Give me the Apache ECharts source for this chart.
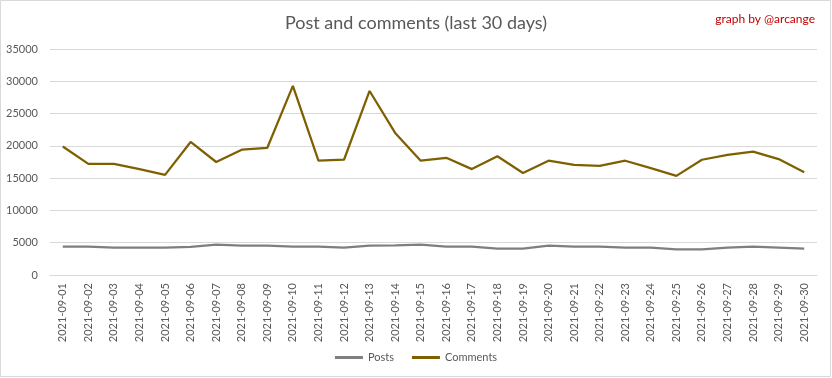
<!DOCTYPE html>
<html>
<head>
<meta charset="utf-8">
<script src="https://cdn.jsdelivr.net/npm/echarts@6/dist/echarts.min.js"></script>
<style>
  html, body { margin: 0; padding: 0; background: #fff; }
  #chart { width: 832px; height: 378px; }
</style>
</head>
<body>
<div id="chart"></div>
<script>
var days = [];
for (var d = 1; d <= 30; d++) {
  days.push('2021-09-' + (d < 10 ? '0' + d : d));
}
var posts = [4400, 4400, 4250, 4250, 4250, 4350, 4700, 4550, 4550, 4400,
             4400, 4250, 4550, 4600, 4700, 4400, 4400, 4100, 4100, 4550,
             4400, 4400, 4250, 4250, 3950, 3950, 4250, 4400, 4250, 4100];
var comments = [19900, 17200, 17200, 16400, 15500, 20600, 17500, 19400, 19700, 29300,
                17700, 17850, 28500, 22000, 17700, 18150, 16400, 18400, 15800, 17700,
                17050, 16900, 17700, 16550, 15350, 17850, 18600, 19100, 17950, 15900];

var chart = echarts.init(document.getElementById('chart'));
var font = 'Lato, "Open Sans", sans-serif';
chart.setOption({
  animation: false,
  textStyle: { fontFamily: font },
  graphic: [{
    type: 'rect',
    shape: { x: 0.5, y: 0.5, width: 830, height: 376 },
    style: { fill: 'none', stroke: '#d9d9d9', lineWidth: 1 },
    silent: true
  }],
  title: [{
    text: 'Post and comments (last 30 days)',
    left: 'center',
    top: 9,
    textStyle: { color: '#595959', fontSize: 18, fontWeight: 'normal', fontFamily: font }
  }, {
    text: 'graph by @arcange',
    right: 12,
    top: 8,
    textStyle: { color: '#c00000', fontSize: 12, fontWeight: 'normal', fontFamily: font }
  }],
  legend: {
    bottom: 10,
    left: 'center',
    itemWidth: 28,
    itemHeight: 3,
    itemGap: 18,
    icon: 'rect',
    textStyle: { color: '#595959', fontSize: 11 },
    data: ['Posts', 'Comments']
  },
  grid: { left: 50, right: 15, top: 49, bottom: 103, containLabel: false },
  xAxis: {
    type: 'category',
    data: days,
    boundaryGap: true,
    axisLine: { lineStyle: { color: '#d9d9d9' } },
    axisTick: { show: false },
    axisLabel: { rotate: 90, color: '#595959', fontSize: 11, margin: 8, interval: 0 }
  },
  yAxis: {
    type: 'value',
    min: 0,
    max: 35000,
    interval: 5000,
    axisLine: { show: false },
    axisTick: { show: false },
    splitLine: { lineStyle: { color: '#d9d9d9' } },
    axisLabel: { color: '#595959', fontSize: 11, margin: 12, formatter: function (v) { return String(v); } }
  },
  series: [{
    name: 'Posts',
    type: 'line',
    data: posts,
    symbol: 'none',
    lineStyle: { color: '#7f7f7f', width: 2.25 },
    itemStyle: { color: '#7f7f7f' }
  }, {
    name: 'Comments',
    type: 'line',
    data: comments,
    symbol: 'none',
    lineStyle: { color: '#7f6000', width: 2.25 },
    itemStyle: { color: '#7f6000' }
  }]
});
</script>
</body>
</html>
